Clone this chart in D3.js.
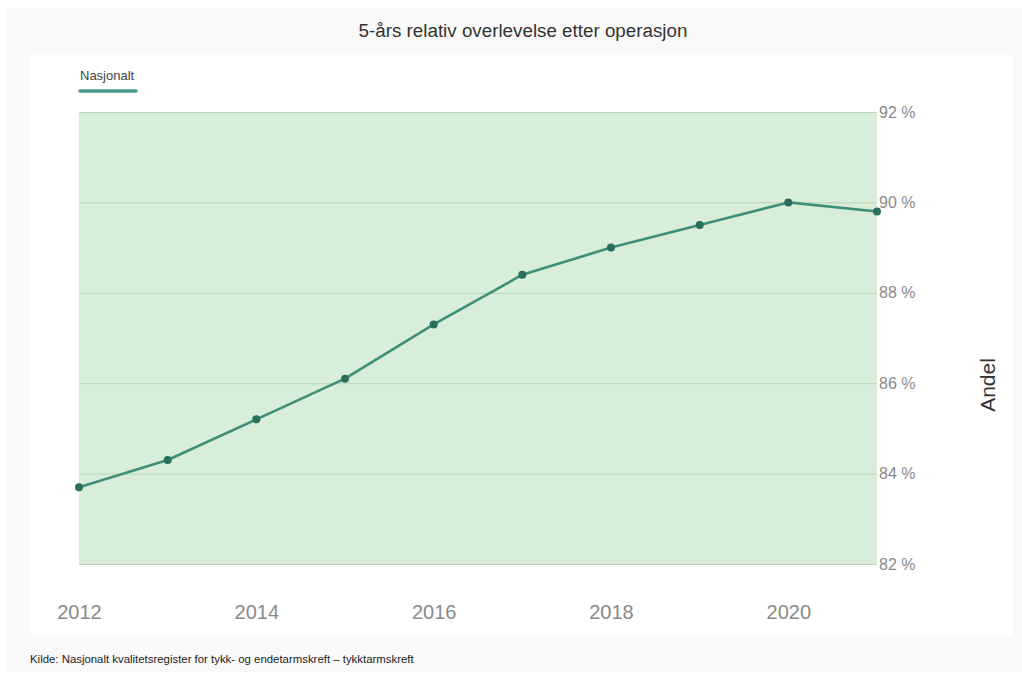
<!DOCTYPE html>
<html>
<head>
<meta charset="utf-8">
<script src="https://cdn.jsdelivr.net/npm/d3@7"></script>
<style>
  html, body { margin: 0; padding: 0; background: #ffffff; }
  svg { display: block; font-family: Arial, "Liberation Sans", sans-serif; }
</style>
</head>
<body>
<svg id="chart" width="1022" height="675"></svg>
<script>
// 5-year relative survival after surgery, national level
const years = [2012, 2013, 2014, 2015, 2016, 2017, 2018, 2019, 2020, 2021];
const nasjonalt = [83.7, 84.3, 85.2, 86.1, 87.3, 88.4, 89.0, 89.5, 90.0, 89.8];
const yTicks = [82, 84, 86, 88, 90, 92];
const xTicks = [2012, 2014, 2016, 2018, 2020];
const seriesName = "Nasjonalt";
const titleText = "5-års relativ overlevelse etter operasjon";
const yAxisTitle = "Andel";
const sourceText = "Kilde: Nasjonalt kvalitetsregister for tykk- og endetarmskreft – tykktarmskreft";

const svg = d3.select("#chart");

// outer card and inner white panel
svg.append("rect").attr("x", 7).attr("y", 8).attr("width", 1015).attr("height", 664).attr("fill", "#f9f9f9");
svg.append("rect").attr("x", 30).attr("y", 55).attr("width", 983).attr("height", 580).attr("fill", "#ffffff");

svg.append("text")
  .attr("x", 523).attr("y", 37)
  .attr("text-anchor", "middle")
  .attr("font-size", 18.8).attr("fill", "#333")
  .text(titleText);

const plot = { left: 79, right: 877, top: 112, bottom: 564 };

const x = d3.scaleLinear().domain([2012, 2021]).range([plot.left, plot.right]);
const y = d3.scaleLinear().domain([82, 92]).range([plot.bottom, plot.top]);

// plot background
svg.append("rect")
  .attr("x", plot.left).attr("y", plot.top)
  .attr("width", plot.right - plot.left).attr("height", plot.bottom - plot.top)
  .attr("fill", "#d9eed8");

// right-side y axis with gridlines
const yAxis = d3.axisRight(y)
  .tickValues(yTicks)
  .tickSize(-(plot.right - plot.left))
  .tickPadding(4)
  .tickFormat(d => d + " %");

const gy = svg.append("g")
  .attr("transform", `translate(${plot.right},0)`)
  .call(yAxis);
gy.select(".domain").remove();
gy.selectAll(".tick line").attr("stroke", "#b9d3b8").attr("stroke-width", 1);
gy.selectAll(".tick text")
  .attr("font-size", 16).attr("fill", "#8a8a8a")
  .attr("font-family", "Arial, 'Liberation Sans', sans-serif")
  .attr("x", 2);

// bottom x axis (labels only)
const xAxis = d3.axisBottom(x)
  .tickValues(xTicks)
  .tickSize(0)
  .tickPadding(0)
  .tickFormat(d3.format("d"));

const gx = svg.append("g")
  .attr("transform", `translate(0,${plot.bottom})`)
  .call(xAxis);
gx.select(".domain").remove();
gx.selectAll(".tick text")
  .attr("font-size", 20).attr("fill", "#8a8a8a")
  .attr("font-family", "Arial, 'Liberation Sans', sans-serif")
  .attr("dy", 0).attr("y", 55);

// y-axis title
svg.append("text")
  .attr("transform", `translate(995,385) rotate(-90)`)
  .attr("text-anchor", "middle")
  .attr("font-size", 21).attr("fill", "#333")
  .text(yAxisTitle);

// series line and markers
const data = years.map((yr, i) => ({ year: yr, value: nasjonalt[i] }));

const line = d3.line().x(d => x(d.year)).y(d => y(d.value));

svg.append("path")
  .datum(data)
  .attr("d", line)
  .attr("fill", "none")
  .attr("stroke", "#3f8f78")
  .attr("stroke-width", 2.6)
  .attr("stroke-linejoin", "round");

svg.append("g").selectAll("circle")
  .data(data)
  .join("circle")
  .attr("cx", d => x(d.year))
  .attr("cy", d => y(d.value))
  .attr("r", 4)
  .attr("fill", "#286f5c");

// legend
svg.append("text")
  .attr("x", 80).attr("y", 80)
  .attr("font-size", 13).attr("fill", "#444")
  .text(seriesName);
svg.append("line")
  .attr("x1", 80).attr("x2", 136)
  .attr("y1", 91).attr("y2", 91)
  .attr("stroke", "#4a9a90").attr("stroke-width", 3.5)
  .attr("stroke-linecap", "round");

// source note
svg.append("text")
  .attr("x", 30).attr("y", 663)
  .attr("font-size", 11.4).attr("fill", "#222")
  .text(sourceText);
</script>
</body>
</html>
